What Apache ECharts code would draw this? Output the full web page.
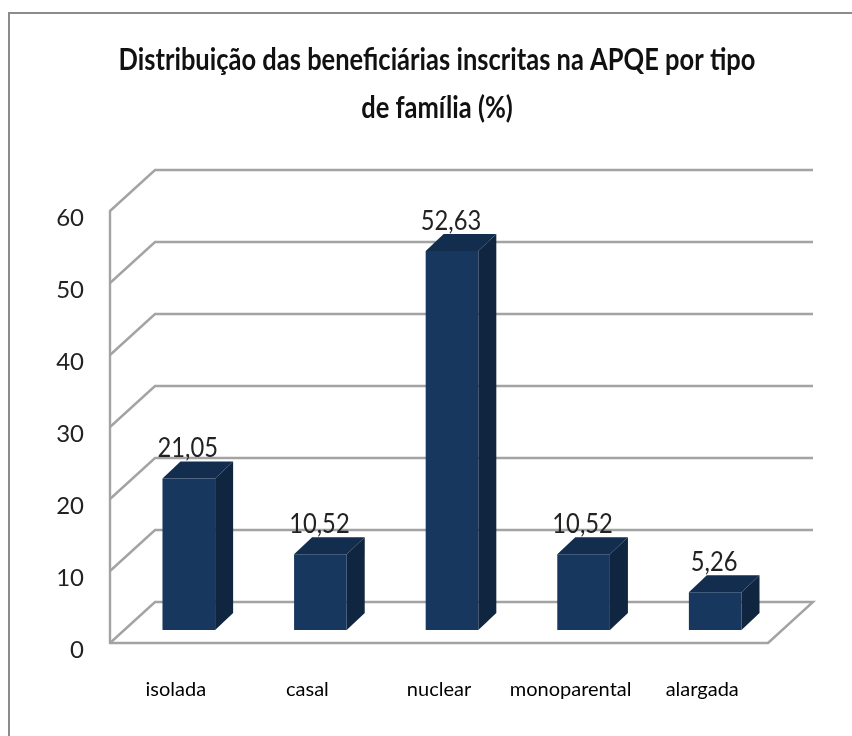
<!DOCTYPE html>
<html>
<head>
<meta charset="utf-8">
<style>
  html, body { margin: 0; padding: 0; background: #fff; }
  #chart { width: 852px; height: 736px; }
</style>
<script src="https://cdn.jsdelivr.net/npm/echarts@6/dist/echarts.min.js"></script>
</head>
<body>
<div id="chart"></div>
<script>
const categories = ['isolada', 'casal', 'nuclear', 'monoparental', 'alargada']
const values = [21.05, 10.52, 52.63, 10.52, 5.26]
const yTicks = [0, 10, 20, 30, 40, 50, 60]
const titleLines = ['Distribuição das beneficiárias inscritas na APQE por tipo', 'de família (%)']

const font = 'Lato, "Liberation Sans", sans-serif'
const wallDx = 45
const wallDy = -41
const barDx = 13
const barDy = -13
const sideDx = 18
const sideDy = -17

var myChart = echarts.init(document.getElementById('chart'), null, { renderer: 'canvas' })

// back wall lines, with the slanted piece on the left side
function renderGridLine (params, api) {
  const cs = params.coordSys
  const y = api.coord([0, api.value(0)])[1]
  let points = [[cs.x, y], [cs.x + wallDx, y + wallDy], [cs.x + cs.width + wallDx, y + wallDy]]
  // the floor also closes on the right
  if (api.value(0) === 0) {
    points.push([cs.x + cs.width, y])
  }
  return {
    type: 'polyline',
    shape: { points: points },
    style: { fill: null, stroke: '#a3a3a3', lineWidth: 2.4 }
  }
}

// bar as three faces
function renderBar (params, api) {
  const base = api.coord([api.value(0), 0])
  const top = api.coord([api.value(0), api.value(1)])
  const w = api.size([1, 0])[0] * 0.4
  const x0 = base[0] - w / 2 + barDx
  const x1 = x0 + w
  const y0 = base[1] + barDy
  const y1 = top[1] + barDy
  return {
    type: 'group',
    children: [
      {
        type: 'polygon',
        shape: { points: [[x1, y0], [x1 + sideDx, y0 + sideDy], [x1 + sideDx, y1 + sideDy], [x1, y1]] },
        style: { fill: '#10253f' }
      },
      {
        type: 'polygon',
        shape: { points: [[x0, y1], [x1, y1], [x1 + sideDx, y1 + sideDy], [x0 + sideDx, y1 + sideDy]] },
        style: { fill: '#132d4e' }
      },
      {
        type: 'rect',
        shape: { x: x0, y: y1, width: w, height: y0 - y1 },
        style: { fill: '#17375e' }
      },
      {
        type: 'text',
        x: (x0 + x1) / 2 - 1,
        y: y1 + sideDy - 13,
        scaleX: 0.88,
        style: {
          text: api.value(1).toFixed(2).replace('.', ','),
          font: '27px ' + font,
          fill: '#222',
          align: 'center',
          verticalAlign: 'middle'
        }
      }
    ]
  }
}

let option = {
  animation: false,
  backgroundColor: '#fff',
  grid: { left: 110, top: 211, width: 658, height: 432 },
  xAxis: {
    type: 'category',
    data: categories,
    axisTick: { show: false },
    axisLine: { lineStyle: { color: '#a3a3a3', width: 2.4 } },
    axisLabel: { interval: 0, margin: 37, fontFamily: font, fontSize: 20, color: '#000' }
  },
  yAxis: {
    type: 'value',
    min: 0,
    max: 60,
    interval: 10,
    splitLine: { show: false },
    axisTick: { show: false },
    axisLine: { show: true, lineStyle: { color: '#a3a3a3', width: 2.4 } },
    axisLabel: { margin: 26, verticalAlign: 'top', lineHeight: 14, fontFamily: font, fontSize: 24, color: '#222' }
  },
  graphic: [
    {
      type: 'rect',
      silent: true,
      z: -1,
      shape: { x: 9, y: 13, width: 860, height: 740 },
      style: { fill: '#fff', stroke: '#8c8c8c', lineWidth: 2 }
    },
    {
      type: 'text',
      x: 437, y: 60, scaleX: 0.85,
      style: { text: titleLines[0], font: 'bold 30px ' + font, fill: '#111', align: 'center', verticalAlign: 'middle' }
    },
    {
      type: 'text',
      x: 437, y: 108, scaleX: 0.85,
      style: { text: titleLines[1], font: 'bold 30px ' + font, fill: '#111', align: 'center', verticalAlign: 'middle' }
    }
  ],
  series: [
    {
      type: 'custom',
      silent: true,
      clip: false,
      z: 1,
      data: yTicks.map(v => [v]),
      encode: { y: 0 },
      renderItem: renderGridLine
    },
    {
      type: 'custom',
      clip: false,
      z: 2,
      data: values.map((v, i) => [i, v]),
      encode: { x: 0, y: 1 },
      renderItem: renderBar
    }
  ]
}
myChart.setOption(option)
</script>
</body>
</html>
